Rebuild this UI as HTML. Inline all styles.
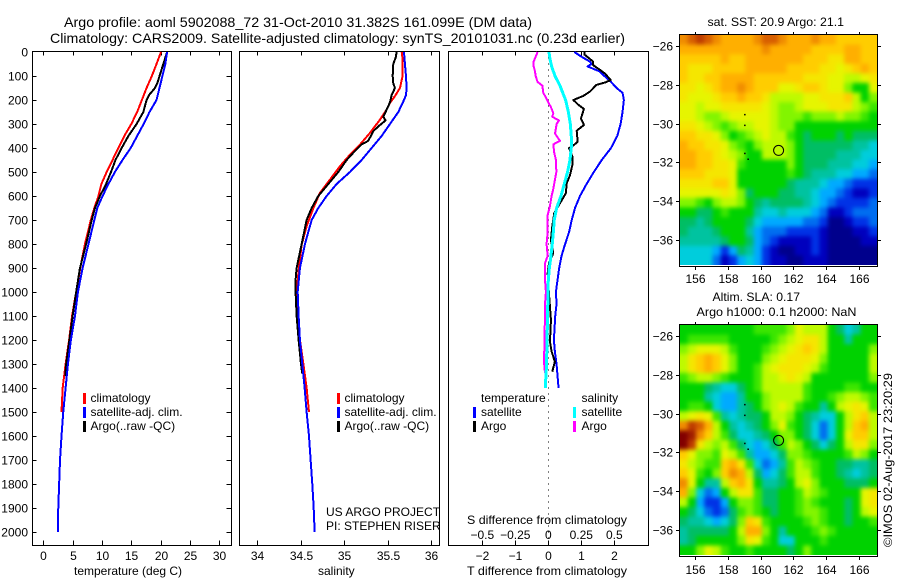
<!DOCTYPE html>
<html>
<head>
<meta charset="utf-8">
<title>Argo profile</title>
<style>
html,body{margin:0;padding:0;background:#fff;}
svg{display:block;}
text{font-family:"Liberation Sans",sans-serif;font-size:12px;fill:#000;}
.ttl{font-size:14px;}
</style>
</head>
<body>
<svg id="chart" xmlns="http://www.w3.org/2000/svg" width="900" height="580" viewBox="0 0 900 580">
<defs>
<filter id="map-smooth" filterUnits="userSpaceOnUse" x="640" y="0" width="260" height="580" color-interpolation-filters="sRGB">
<feGaussianBlur stdDeviation="2"/>
</filter>
<clipPath id="clip-sst-map"><rect x="680" y="35" width="197" height="230"/></clipPath>
<clipPath id="clip-sla-map"><rect x="680" y="325" width="197" height="230"/></clipPath>
</defs>
<rect x="0" y="0" width="900" height="580" fill="#fff"/>
<text class="ttl" x="64" y="27" textLength="468" lengthAdjust="spacingAndGlyphs">Argo profile: aoml 5902088_72 31-Oct-2010 31.382S 161.099E (DM data)</text>
<text class="ttl" x="50" y="43" textLength="575" lengthAdjust="spacingAndGlyphs">Climatology: CARS2009. Satellite-adjusted climatology: synTS_20101031.nc (0.23d earlier)</text>

<g id="plots"></g>
<g id="maps"></g>

<text x="74" y="575">temperature (deg C)</text>
<text x="318" y="575">salinity</text>
<text x="467" y="575" textLength="160" lengthAdjust="spacingAndGlyphs">T difference from climatology</text>
<text x="467" y="524" textLength="160" lengthAdjust="spacingAndGlyphs">S difference from climatology</text>

<g>
<rect x="83" y="393" width="3" height="11" fill="#f00"/>
<rect x="83" y="407" width="3" height="11" fill="#00f"/>
<rect x="83" y="421" width="3" height="11" fill="#000"/>
<text x="90.5" y="402">climatology</text>
<text x="90.5" y="416">satellite-adj. clim.</text>
<text x="90.5" y="430">Argo(..raw -QC)</text>
</g>
<g>
<rect x="337" y="393" width="3" height="11" fill="#f00"/>
<rect x="337" y="407" width="3" height="11" fill="#00f"/>
<rect x="337" y="421" width="3" height="11" fill="#000"/>
<text x="344.5" y="402">climatology</text>
<text x="344.5" y="416">satellite-adj. clim.</text>
<text x="344.5" y="430">Argo(..raw -QC)</text>
</g>
<g>
<text x="481" y="402">temperature</text>
<text x="581.5" y="402">salinity</text>
<rect x="473" y="407" width="3" height="11" fill="#00f"/>
<rect x="473" y="421" width="3" height="11" fill="#000"/>
<rect x="573" y="407" width="3" height="11" fill="#0ff"/>
<rect x="573" y="421" width="3" height="11" fill="#f0f"/>
<text x="481" y="416">satellite</text>
<text x="481" y="430">Argo</text>
<text x="581.5" y="416">satellite</text>
<text x="581.5" y="430">Argo</text>
</g>
<text x="326" y="516">US ARGO PROJECT</text>
<text x="326" y="530">PI: STEPHEN RISER</text>

<text x="707.5" y="26" textLength="136.5" lengthAdjust="spacingAndGlyphs">sat. SST: 20.9 Argo: 21.1</text>
<text x="712.5" y="301" textLength="87.5" lengthAdjust="spacingAndGlyphs">Altim. SLA: 0.17</text>
<text x="696.5" y="316" textLength="160" lengthAdjust="spacingAndGlyphs">Argo h1000: 0.1 h2000: NaN</text>
<text transform="translate(892,547) rotate(-90)" textLength="174" lengthAdjust="spacingAndGlyphs">©IMOS 02-Aug-2017 23:20:29</text>
</svg>

<script>
// ---------- profile data ----------
var depthTicks = [0,100,200,300,400,500,600,700,800,900,1000,1100,1200,1300,1400,1500,1600,1700,1800,1900,2000];
var tempTicks = [0,5,10,15,20,25,30];
var salTicks = [34,34.5,35,35.5,36];
var salTickLabels = ['34','34.5','35','35.5','36'];
var tDiffTicks = [-2,-1,0,1,2];
var tDiffTickLabels = ['\u22122','\u22121','0','1','2'];
var sDiffTicks = [-0.5,-0.25,0,0.25,0.5];
var sDiffTickLabels = ['\u22120.5','\u22120.25','0','0.25','0.5'];

var tempClimDepth = [0,50,100,150,200,250,300,350,400,450,500,550,600,650,700,800,900,1000,1100,1200,1300,1400,1500];
var tempClimValue = [20.06,19.3,18.5,17.6,16.8,16.0,15.0,13.8,12.8,11.8,10.8,9.9,9.4,8.7,8.1,7.1,6.3,5.6,4.9,4.4,3.8,3.3,3.1];
var tempSatDepth = [0,50,100,150,200,250,300,350,400,450,500,550,600,650,700,800,900,1000,1100,1200,1300,1400,1500,1600,1700,1800,1900,2000];
var tempSatValue = [21.1,20.8,20.3,19.8,19.3,18.1,17.1,16,14.9,13.5,12.2,11.1,10.1,9.2,8.7,7.7,6.7,5.9,5.4,4.7,4.2,3.8,3.4,3.1,2.85,2.7,2.55,2.5];
var tempArgoDepth = [0,130,150,180,200,250,300,350,400,450,500,550,600,650,700,800,900,1000,1100,1200,1300,1350];
var tempArgoValue = [21.1,19.43,19.04,18.0,17.6,17.05,15.9,14.5,13.36,12.3,11.54,10.7,9.66,8.8,8.25,7.3,6.25,5.6,5.0,4.45,3.9,3.75];

var salClimDepth = [0,30,100,150,185,212,240,282,337,386,428,476,532,587,650,726,803,893,1000,1100,1200,1300,1400,1500];
var salClimValue = [35.66,35.67,35.67,35.64,35.58,35.525,35.487,35.41,35.295,35.18,35.065,34.95,34.835,34.72,34.645,34.567,34.51,34.48,34.452,34.464,34.49,34.53,34.567,34.594];
var salSatDepth = [0,50,100,150,180,200,250,300,350,400,450,500,550,600,650,700,750,800,900,1000,1100,1200,1300,1400,1500,1600,1700,1800,1900,2000];
var salSatValue = [35.686,35.697,35.709,35.716,35.709,35.686,35.621,35.525,35.429,35.314,35.199,35.065,34.912,34.797,34.701,34.625,34.586,34.548,34.49,34.464,34.475,34.49,34.517,34.544,34.567,34.594,34.613,34.632,34.648,34.659];
var salArgoDepth = [0,20,50,100,130,150,180,210,240,270,285,310,330,370,385,420,450,500,550,600,650,700,800,900,950,1000,1100,1200,1300,1340];
var salArgoValue = [35.6,35.594,35.563,35.556,35.563,35.582,35.544,35.525,35.487,35.448,35.475,35.391,35.333,35.276,35.199,35.103,35.027,34.931,34.816,34.701,34.625,34.567,34.51,34.452,34.44,34.44,34.452,34.475,34.502,34.517];

var tDiffSatDepth = [0,20,40,50,60,80,100,120,150,170,200,250,300,350,400,450,500,550,600,650,700,750,800,850,900,950,1000,1050,1100,1200,1250,1300,1350,1400];
var tDiffSatValue = [0.79,1.01,1.26,1.31,1.19,1.54,1.70,1.87,2.07,2.25,2.29,2.25,2.19,2.09,1.90,1.62,1.38,1.16,0.96,0.81,0.71,0.63,0.51,0.40,0.33,0.28,0.23,0.25,0.21,0.17,0.20,0.25,0.28,0.31];
var tDiffArgoDepth = [0,10,40,55,70,90,117,127,137,165,183,200,220,237,277,304,328,374,387,401,436,470,512,547,589,631,672,728,783,839,881,922,1006,1061,1117,1207,1248,1290,1332];
var tDiffArgoValue = [1.09,1.09,1.36,1.36,1.52,1.72,1.89,1.72,1.46,1.26,1.06,0.76,0.91,1.08,0.99,1.08,0.86,0.89,0.78,0.63,0.73,0.73,0.66,0.56,0.53,0.35,0.18,0.12,0.08,0.15,0.02,-0.02,0.02,0.05,0.08,0.05,0.10,0.20,0.12];
var sDiffSatDepth = [0,30,60,100,140,165,200,250,300,350,400,450,500,550,600,650,700,750,800,850,900,950,1000,1100,1200,1300,1400];
var sDiffSatValue = [0.005,0.013,0.025,0.051,0.088,0.106,0.131,0.152,0.167,0.174,0.174,0.164,0.146,0.121,0.096,0.063,0.045,0.038,0.030,0.020,0.008,0,-0.003,-0.005,-0.010,-0.013,-0.023];
var sDiffArgoDepth = [0,20,40,60,80,100,125,140,170,190,210,230,255,270,285,300,340,370,385,420,450,500,530,570,600,640,680,750,800,850,880,950,1000,1050,1200,1290,1338];
var sDiffArgoValue = [-0.081,-0.096,-0.111,-0.111,-0.101,-0.096,-0.081,-0.045,-0.038,-0.018,0,0.020,0.038,0.030,0.081,0.063,0.051,0.088,0.038,0.045,0.058,0.061,0.051,0.038,0.025,0.013,-0.005,-0.005,-0.013,-0.005,-0.025,-0.025,-0.018,-0.025,-0.028,-0.033,-0.025];

// ---------- map data ----------
var mapLonTicks = [156,158,160,162,164,166];
var mapLatTicks = [-26,-28,-30,-32,-34,-36];
var argoLon = 161.099;
var argoLat = -31.382;
var coastLon = [159,159,159,159.2];
var coastLat = [-29.5,-30.05,-31.5,-31.8];
var sstLevels = [
[16,17,18,17,16,15,15,15,15,16,17,17,16,15,15,15,16,15,15,14,14,14,14,14],
[15,15,15,15,15,15,15,15,15,15,16,15,15,15,15,15,14,14,14,14,15,15,14,14],
[14,14,14,14,14,15,14,14,15,15,15,15,15,15,15,14,14,14,13,13,15,15,14,14],
[14,13,13,13,14,14,14,14,15,15,15,15,15,14,14,14,14,13,13,12,13,14,15,14],
[14,13,13,14,14,15,15,15,15,14,14,14,14,14,14,13,13,13,12,12,11,11,12,13],
[13,13,12,13,14,15,15,16,15,14,14,14,12,12,13,14,14,13,12,12,10,8,8,12],
[13,12,12,12,13,14,14,15,14,14,13,11,11,11,11,12,12,13,13,13,14,11,8,10],
[12,12,11,12,12,13,13,13,13,13,12,11,10,10,11,12,12,12,13,13,13,11,10,9],
[12,12,11,10,10,11,12,12,12,12,12,11,10,10,10,9,10,10,10,11,10,10,9,8],
[13,13,12,11,10,9,10,11,11,12,12,11,10,10,8,8,8,8,8,8,8,8,8,8],
[14,14,13,13,12,10,8,9,10,11,12,11,11,9,8,7,8,8,8,7,8,7,7,7],
[15,14,14,13,13,12,10,9,8,10,11,11,11,10,8,7,7,7,7,7,7,6,6,5],
[15,15,14,14,13,12,11,10,8,8,11,11,11,10,8,7,7,7,7,6,6,6,5,5],
[15,15,14,14,13,13,12,9,8,8,8,8,8,10,8,7,7,7,6,6,6,5,5,4],
[14,14,14,13,13,13,12,8,8,8,8,8,8,9,8,7,6,6,6,5,5,4,4,3],
[13,13,13,13,14,14,12,8,8,8,8,8,8,7,6,6,6,5,4,4,3,2,2,2],
[12,12,12,12,12,13,12,10,7,8,8,8,7,7,6,6,5,4,4,3,2,1,1,2],
[10,10,9,8,10,11,11,10,8,7,6,7,7,7,7,6,5,4,3,2,2,2,2,3],
[8,8,7,7,8,9,8,8,8,6,5,5,6,5,5,5,4,3,1,1,2,3,3,3],
[7,7,6,7,8,8,8,8,7,5,4,4,4,4,4,3,3,2,0,0,1,2,2,3],
[7,6,6,6,7,8,8,8,6,4,3,3,3,2,2,2,2,1,0,0,0,1,1,2],
[6,6,6,6,6,7,8,8,7,4,3,2,1,1,1,1,2,1,0,0,0,0,1,1],
[5,5,5,5,4,2,4,7,6,4,2,1,0,0,1,1,2,1,0,0,0,0,0,0],
[5,5,5,5,3,1,2,4,5,4,2,1,1,0,0,1,1,1,0,0,0,0,0,0]
];
var slaLevels = [
[8,8,8,8,8,8,8,8,8,9,9,9,9,10,12,11,11,11,8,7,5,6,8,8],
[8,9,9,9,9,9,8,8,8,8,8,9,10,11,12,13,13,11,8,8,6,8,8,8],
[10,11,12,12,12,11,9,8,8,8,9,10,11,12,13,14,13,11,8,8,8,8,8,10],
[11,13,14,15,14,12,10,8,8,8,10,11,12,13,13,13,12,10,8,8,8,8,8,11],
[11,13,14,15,14,12,10,8,8,9,11,12,13,13,13,12,11,9,8,8,8,8,8,11],
[9,10,11,11,10,9,8,8,8,9,11,11,12,13,12,11,8,8,8,8,8,8,8,10],
[8,8,8,7,6,5,5,7,8,9,11,11,11,11,11,9,8,8,8,8,9,9,8,8],
[8,8,8,6,5,4,4,6,8,8,10,11,11,11,11,9,8,8,9,10,11,11,10,9],
[8,9,9,8,5,4,4,6,7,8,10,11,12,11,9,8,8,6,8,11,12,13,12,9],
[11,12,13,12,9,6,5,6,7,7,8,11,11,10,8,7,6,5,5,8,11,13,14,11],
[16,18,17,15,11,8,6,5,6,7,8,10,12,9,8,7,5,3,5,8,11,14,15,11],
[20,19,16,14,11,9,7,5,5,6,7,8,10,10,8,7,5,3,5,8,12,14,14,11],
[20,18,13,11,10,11,9,7,5,4,5,7,9,11,10,8,7,5,7,8,11,13,13,10],
[14,12,10,10,9,12,11,9,6,4,4,5,7,10,10,9,8,8,8,8,9,11,10,8],
[13,11,10,9,9,14,15,13,9,5,3,4,6,9,11,10,9,8,8,7,7,6,6,7],
[14,12,9,8,10,14,16,15,11,7,4,5,7,9,11,11,9,8,8,7,6,5,6,7],
[16,12,8,6,6,11,14,15,13,8,6,6,7,8,11,12,10,8,8,8,7,7,7,8],
[15,10,5,3,4,8,11,13,13,9,7,7,8,8,9,11,10,9,8,8,8,8,12,13],
[11,8,4,2,2,4,8,10,10,9,7,7,8,8,9,10,9,8,8,8,7,8,12,13],
[8,7,5,3,2,3,7,9,10,9,8,7,8,8,9,10,10,9,8,8,7,8,11,12],
[7,6,6,5,4,5,7,10,14,13,9,8,8,8,8,9,10,9,8,8,7,8,8,9],
[6,7,7,7,7,7,8,11,15,15,10,8,6,8,8,8,9,10,9,8,8,8,8,8],
[6,7,8,8,8,8,8,10,13,12,9,8,5,5,8,8,8,9,8,8,8,8,8,8],
[8,8,10,12,11,9,8,8,9,8,8,8,8,7,8,10,8,8,8,8,8,8,8,8]
];
var levelPalette = ['#00008c','#0000be','#0032e6','#006ef0','#00aaff','#00cddc','#00c3a0','#00be64','#00d200','#3ce600','#82f500','#befa00','#e6f500','#f5e600','#ffcd00','#ffaf00','#f08c00','#d75f00','#be3c00','#a01e00','#820000'];

// ---------- helpers ----------
var NS = 'http://www.w3.org/2000/svg';
var plotsG = document.getElementById('plots');
var mapsG = document.getElementById('maps');
var depthY = function(d){ return 52 + d*0.24; };
var tempX = function(v){ return 43.3 + v*5.867; };
var salX = function(v){ return 257.3 + (v-34)*87; };
var tDiffX = function(v){ return 548.3 + v*33; };
var sDiffX = function(v){ return 548.3 + v*132; };
var PANEL_TOP = 51.5, PANEL_BOTTOM = 545.5;

function node(tag, parent, attrs){
  var el = document.createElementNS(NS, tag);
  for (var k in attrs) el.setAttribute(k, attrs[k]);
  parent.appendChild(el);
  return el;
}
function seg(parent, x1, y1, x2, y2){
  var el = node('line', parent, {x1:x1, y1:y1, x2:x2, y2:y2, stroke:'#000', 'stroke-width':1, 'shape-rendering':'crispEdges'});
  
  
}
function label(parent, str, x, y, anchor){
  var el = node('text', parent, {x:x, y:y, 'text-anchor':anchor});
  el.textContent = str;
  
  
}
function frame(parent, x, y, w, h){
  var el = node('rect', parent, {x:x, y:y, width:w, height:h, fill:'none', stroke:'#000', 'stroke-width':1, 'shape-rendering':'crispEdges'});
  
  
}
function profile(parent, name, depths, values, xFn, color, w){
  var pts = [];
  for (var i = 0; i < depths.length; i++) pts.push(xFn(values[i]).toFixed(2) + ',' + depthY(depths[i]).toFixed(2));
  var el = node('polyline', parent, {points:pts.join(' '), fill:'none', stroke:color, 'stroke-width':w, 'stroke-linejoin':'round', 'shape-rendering':'crispEdges'});
  
  
}
function xTicks(parent, ticks, labels, xFn, labelY){
  for (var i = 0; i < ticks.length; i++){
    var x = Math.round(xFn(ticks[i])) + 0.5;
    seg(parent, x, PANEL_TOP, x, PANEL_TOP + 4);
    seg(parent, x, PANEL_BOTTOM, x, PANEL_BOTTOM - 5);
    label(parent, labels[i], x, labelY, 'middle');
  }
}

// ---------- panel 1: temperature ----------
frame(plotsG, 32.5, PANEL_TOP, 199, PANEL_BOTTOM - PANEL_TOP);
xTicks(plotsG, tempTicks, tempTicks.map(String), tempX, 560);
depthTicks.forEach(function(d){
  var y = Math.round(depthY(d)) + 0.5;
  if (d > 0) { seg(plotsG, 32.5, y, 36.5, y); seg(plotsG, 231.5, y, 226.5, y); }
  label(plotsG, String(d), 28, y + 4, 'end');
});
profile(plotsG, 'temperature-climatology-line', tempClimDepth, tempClimValue, tempX, '#f00', 2);
profile(plotsG, 'temperature-argo-line', tempArgoDepth, tempArgoValue, tempX, '#000', 2);
profile(plotsG, 'temperature-satellite-line', tempSatDepth, tempSatValue, tempX, '#00f', 2);

// ---------- panel 2: salinity ----------
frame(plotsG, 239.5, PANEL_TOP, 200, PANEL_BOTTOM - PANEL_TOP);
xTicks(plotsG, salTicks, salTickLabels, salX, 560);
profile(plotsG, 'salinity-climatology-line', salClimDepth, salClimValue, salX, '#f00', 2);
profile(plotsG, 'salinity-argo-line', salArgoDepth, salArgoValue, salX, '#000', 2);
profile(plotsG, 'salinity-satellite-line', salSatDepth, salSatValue, salX, '#00f', 2);

// ---------- panel 3: differences ----------
frame(plotsG, 448.5, PANEL_TOP, 200, PANEL_BOTTOM - PANEL_TOP);
xTicks(plotsG, tDiffTicks, tDiffTickLabels, tDiffX, 560);
sDiffTicks.forEach(function(v, i){
  label(plotsG, sDiffTickLabels[i], sDiffX(v), 539, 'middle');
});
var zeroLine = node('line', plotsG, {x1:548.5, y1:PANEL_TOP, x2:548.5, y2:PANEL_BOTTOM, stroke:'#000', 'stroke-width':1, 'stroke-dasharray':'1 5', 'shape-rendering':'crispEdges'});


profile(plotsG, 't-difference-satellite-line', tDiffSatDepth, tDiffSatValue, tDiffX, '#00f', 2);
profile(plotsG, 't-difference-argo-line', tDiffArgoDepth, tDiffArgoValue, tDiffX, '#000', 2);
profile(plotsG, 's-difference-argo-line', sDiffArgoDepth, sDiffArgoValue, sDiffX, '#f0f', 2);
profile(plotsG, 's-difference-satellite-line', sDiffSatDepth, sDiffSatValue, sDiffX, '#0ff', 3);

// ---------- maps ----------
function drawMap(name, levels, top, latZeroY, xLabelY){
  var lonX = function(lon){ return 694.7 + (lon - 156)*16.46; };
  var latY = function(lat){ return latZeroY + (-26 - lat)*19.4; };
  var g = node('g', mapsG, {});
  
  
  var clipG = node('g', g, {'clip-path':'url(#clip-' + name + ')'});
  
  
  var field = node('g', clipG, {filter:'url(#map-smooth)'});
  
  
  var cellLon = 0.5;
  var cellLat = 230/24/19.4;
  var lon0 = 155.08;
  var lat0 = -26 - (top - latZeroY)/19.4;
  var pad = 14;
  var lastRow = levels.length - 1;
  levels.forEach(function(row, j){
    var lastCol = row.length - 1;
    row.forEach(function(v, i){
      var x = lonX(lon0 + i*cellLon);
      var y = latY(lat0 - j*cellLat);
      var w = cellLon*16.46 + 0.4;
      var h = cellLat*19.4 + 0.4;
      // edge cells run past the clip so the smoothing does not fade at the frame
      if (i === 0) { x -= pad; w += pad; }
      if (i === lastCol) { w += pad; }
      if (j === 0) { y -= pad; h += pad; }
      if (j === lastRow) { h += pad; }
      var cell = node('rect', field, {x:x.toFixed(2), y:y.toFixed(2), width:w.toFixed(2), height:h.toFixed(2), fill:levelPalette[v]});
      
      
    });
  });
  var bottom = top + 232;
  frame(g, 679.5, top - 0.5, 198, 232);
  mapLonTicks.forEach(function(lon){
    var x = Math.round(lonX(lon)) + 0.5;
    seg(g, x, top - 3, x, top);
    seg(g, x, bottom, x, bottom + 3);
    label(g, String(lon), x, xLabelY, 'middle');
  });
  mapLatTicks.forEach(function(lat){
    var y = Math.round(latY(lat)) + 0.5;
    seg(g, 676, y, 679.5, y);
    seg(g, 877.5, y, 881, y);
    label(g, '\u2212' + Math.abs(lat), 673, y + 4, 'end');
  });
  coastLon.forEach(function(lon, k){
    var dot = node('rect', g, {x:lonX(lon).toFixed(1), y:latY(coastLat[k]).toFixed(1), width:1.5, height:1.5, fill:'#000'});
    
    
  });
  var ring = node('circle', g, {cx:lonX(argoLon).toFixed(1), cy:latY(argoLat).toFixed(1), r:5, fill:'none', stroke:'#000', 'stroke-width':1});
  
  
}
drawMap('sst-map', sstLevels, 35, 46, 283);
drawMap('sla-map', slaLevels, 325, 336, 574);
</script>
</body>
</html>
